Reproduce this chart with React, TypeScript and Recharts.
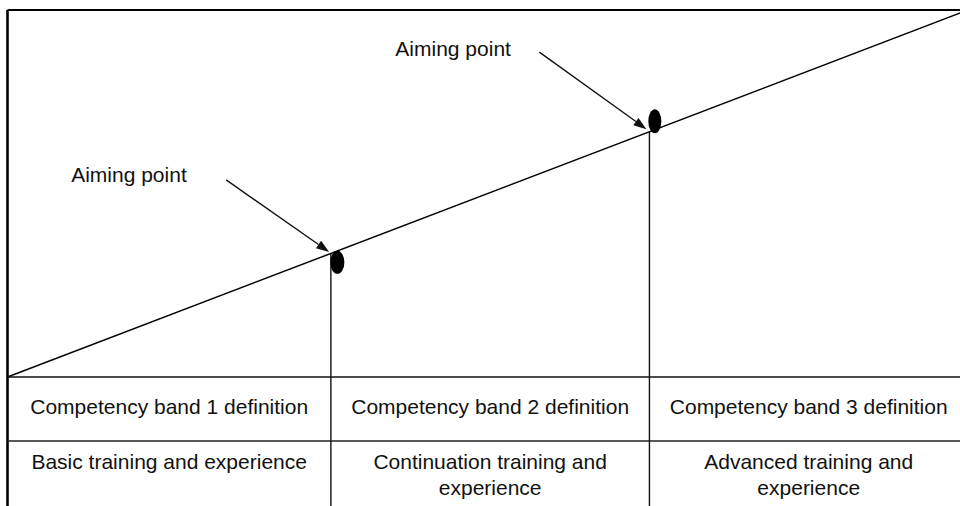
import { ComposedChart, Line, Scatter, XAxis, YAxis, ReferenceLine } from 'recharts';

// diagonal progression line
const lineX = [0, 3];
const lineY = [0, 1];

// aiming points sit on the line at the band boundaries
const aimX = [1.01, 2.005];
const aimY = [0.337, 0.668];
const aimLabels = ['Aiming point', 'Aiming point'];

// band columns of the table under the chart
const bandEdges = [0, 1.01, 2.005, 3];
const bandDefinitions = [
  'Competency band 1 definition',
  'Competency band 2 definition',
  'Competency band 3 definition',
];
const bandTraining = [
  ['Basic training and experience'],
  ['Continuation training and', 'experience'],
  ['Advanced training and', 'experience'],
];

const lineData = lineX.map((x, i) => ({ x, y: lineY[i] }));
const aimData = aimX.map((x, i) => ({ x, y: aimY[i], id: i, label: aimLabels[i] }));
const bandCenters = bandEdges.slice(0, -1).map((e, i) => (e + bandEdges[i + 1]) / 2);

const FONT = '"Liberation Sans", Arial, Helvetica, sans-serif';
const INK = '#111';
const TABLE_BOTTOM = -0.6;
const ROW_LINE = -0.1744;

// offsets of ellipse / label / arrow relative to the point on the line
const markStyle = [
  { ellipse: [6.5, 9, 7, 11.5], label: [-259.7, -70.9], from: [-104.7, -73.4], to: [-1.7, -1.4] },
  { ellipse: [5.4, -10.7, 6.5, 12], label: [-254.1, -75.7], from: [-110.1, -79.7], to: [-3, -2.7] },
];

const AimingMark = (props: any) => {
  const { cx, cy, payload } = props;
  const s = markStyle[payload.id];
  const x1 = cx + s.from[0];
  const y1 = cy + s.from[1];
  const x2 = cx + s.to[0];
  const y2 = cy + s.to[1];
  const len = Math.hypot(x2 - x1, y2 - y1);
  const ux = (x2 - x1) / len;
  const uy = (y2 - y1) / len;
  const bx = x2 - ux * 13;
  const by = y2 - uy * 13;
  const w = 4.5;
  return (
    <g>
      <line x1={x1} y1={y1} x2={bx} y2={by} stroke={INK} strokeWidth={1.4} />
      <polygon
        points={`${x2},${y2} ${bx - uy * w},${by + ux * w} ${bx + uy * w},${by - ux * w}`}
        fill={INK}
      />
      <ellipse cx={cx + s.ellipse[0]} cy={cy + s.ellipse[1]} rx={s.ellipse[2]} ry={s.ellipse[3]} fill="#000" />
      <text x={cx + s.label[0]} y={cy + s.label[1]} fontSize={21} fontFamily={FONT} fill={INK}>
        {payload.label}
      </text>
    </g>
  );
};

const BandTick = (props: any) => {
  const { x, y, index } = props;
  return (
    <g>
      <text x={x} y={y + 36.5} textAnchor="middle" fontSize={21} fontFamily={FONT} fill={INK}>
        {bandDefinitions[index]}
      </text>
      {bandTraining[index].map((t, i) => (
        <text key={i} x={x} y={y + 92 + i * 26} textAnchor="middle" fontSize={21} fontFamily={FONT} fill={INK}>
          {t}
        </text>
      ))}
    </g>
  );
};

const App = () => {
  return (
    <div style={{ position: 'fixed', top: 0, left: 0, width: 960, height: 506, overflow: 'hidden', background: '#fff' }}>
      <ComposedChart width={976} height={517} data={lineData} margin={{ top: 10, right: 8, left: 7.5, bottom: 0 }}>
        <XAxis
          type="number"
          dataKey="x"
          domain={[0, 3]}
          ticks={bandCenters}
          interval={0}
          tickSize={0}
          tickMargin={0}
          tickLine={false}
          height={140}
          axisLine={{ stroke: INK, strokeWidth: 1.4 }}
          tick={<BandTick />}
        />
        <YAxis type="number" dataKey="y" domain={[0, 1]} hide />
        {/* frame: top and left border */}
        <ReferenceLine segment={[{ x: 0, y: 1 }, { x: 3, y: 1 }]} stroke="#000" strokeWidth={1.8} ifOverflow="visible" />
        <ReferenceLine segment={[{ x: 0, y: 1 }, { x: 0, y: TABLE_BOTTOM }]} stroke="#000" strokeWidth={2.6} ifOverflow="visible" />
        {/* table row separator */}
        <ReferenceLine segment={[{ x: 0, y: ROW_LINE }, { x: 3, y: ROW_LINE }]} stroke="#222" strokeWidth={1.4} ifOverflow="visible" />
        {/* drop lines from aiming points through the table */}
        {aimX.map((x, i) => (
          <ReferenceLine
            key={i}
            segment={[{ x, y: aimY[i] }, { x, y: TABLE_BOTTOM }]}
            stroke="#111"
            strokeWidth={1.4}
            ifOverflow="visible"
          />
        ))}
        <Line dataKey="y" type="linear" stroke="#000" strokeWidth={1.5} dot={false} isAnimationActive={false} />
        <Scatter data={aimData} dataKey="y" shape={<AimingMark />} isAnimationActive={false} />
      </ComposedChart>
    </div>
  );
};

export default App;
